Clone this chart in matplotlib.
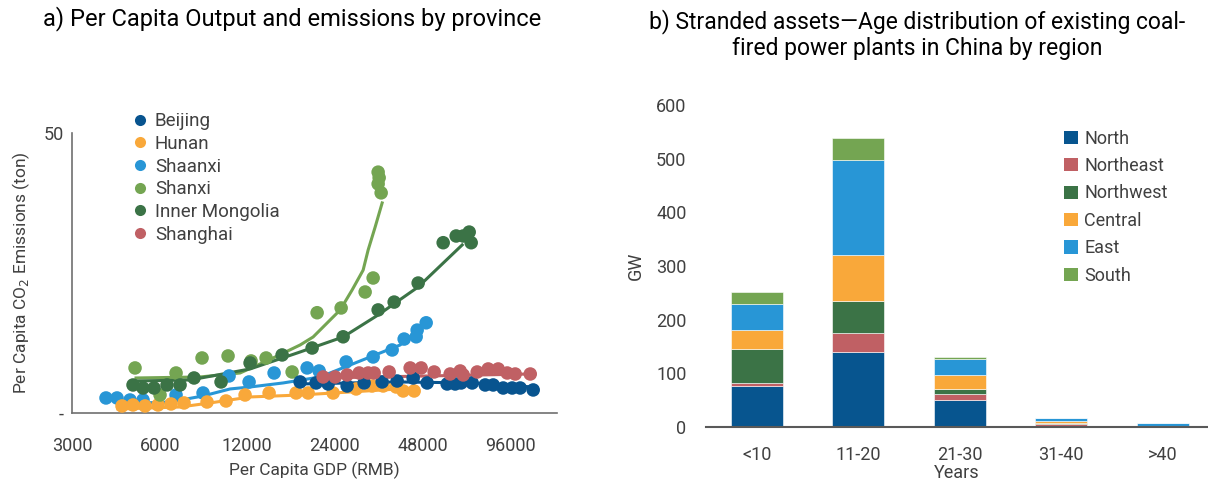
import matplotlib
matplotlib.use("Agg")
import matplotlib.pyplot as plt
from matplotlib.lines import Line2D
from matplotlib.patches import Patch
import numpy as np

plt.rcParams['font.family'] = ['Roboto', 'DejaVu Sans']

# ---- panel a: per capita GDP (RMB) vs per capita CO2 (ton) ----
provinces = ['Beijing', 'Hunan', 'Shaanxi', 'Shanxi', 'Inner Mongolia', 'Shanghai']
prov_colors = ['#08548F', '#F9A83A', '#2896D6', '#74A552', '#3B7346', '#C06064']

beijing_gdp = [18224, 20685, 22746, 26433, 30238, 34868, 39261, 44559, 49778, 58309,
               62120, 65143, 71068, 78775, 83918, 90820, 97518, 103900, 115140]
beijing_co2 = [5.54, 5.36, 5.18, 4.82, 5.36, 5.54, 5.71, 6.25, 5.36, 5.18,
               5.18, 5.36, 5.36, 5.0, 5.0, 4.46, 4.46, 4.46, 4.11]
hunan_gdp = [4456, 4861, 5345, 5924, 6567, 7279, 8730, 10147, 11792, 14260,
             17658, 19416, 23664, 28382, 32213, 35145, 38952, 41169, 44913]
hunan_co2 = [1.25, 1.43, 1.25, 1.43, 1.61, 1.79, 1.96, 2.14, 3.21, 3.57,
             3.57, 3.57, 3.57, 4.29, 4.82, 4.82, 4.64, 3.93, 3.93]
shaanxi_gdp = [3926, 4283, 4747, 5261, 6832, 8458, 10390, 12172, 14835, 19262,
               21182, 26225, 32470, 37740, 41496, 45628, 45991, 49386]
shaanxi_co2 = [2.68, 2.68, 2.32, 2.32, 3.21, 3.57, 6.61, 5.54, 7.14, 8.04,
               7.5, 9.11, 10.0, 11.25, 13.2, 13.6, 14.8, 16.1]
shanxi_gdp = [4939, 6019, 6832, 8391, 10308, 12366, 13926, 17107, 20849, 25209,
              30477, 32470, 33780, 34050, 33780, 34593]
shanxi_co2 = [8.04, 3.21, 7.14, 9.82, 10.18, 9.29, 9.82, 7.32, 17.9, 18.75,
              21.6, 24.1, 43.0, 42.0, 40.9, 39.3]
mongolia_gdp = [4861, 5261, 5740, 6362, 7052, 7876, 9752, 12268, 15805, 20040,
                25610, 33780, 38341, 46355, 56499, 62618, 66183, 69402, 70507]
mongolia_co2 = [5.0, 4.46, 4.46, 5.0, 5.0, 6.25, 5.54, 8.93, 10.36, 11.6,
                13.6, 18.4, 19.8, 23.2, 30.4, 31.6, 31.6, 32.3, 30.4]
shanghai_gdp = [21863, 24038, 26433, 29065, 31210, 32727, 36852, 43511, 47469, 52611,
                59711, 64630, 66183, 73934, 80668, 87299, 93744, 99864, 112490]
shanghai_co2 = [6.43, 6.43, 6.79, 7.14, 7.14, 7.14, 7.32, 8.04, 8.04, 7.32,
                6.96, 7.5, 6.79, 7.32, 7.86, 7.86, 7.14, 6.96, 6.96]

# trend lines
beijing_fit_gdp = [18224, 40200, 69950, 115140]
beijing_fit_co2 = [5.18, 5.54, 5.36, 4.64]
hunan_fit_gdp = [4317, 7052, 8939, 12268, 18224, 27066, 44913]
hunan_fit_co2 = [0.71, 1.07, 1.79, 2.86, 3.21, 3.75, 4.46]
shaanxi_fit_gdp = [5261, 6515, 8458, 10474, 12268, 15930, 21349, 27066, 40200, 49778]
shaanxi_fit_co2 = [1.79, 1.96, 3.04, 4.29, 4.64, 5.36, 6.43, 8.57, 12.14, 16.1]
shanxi_fit_gdp = [4978, 8259, 11335, 14718, 18224, 20199, 25012, 27495, 29995, 31210, 32988, 34868]
shanxi_fit_co2 = [6.25, 6.43, 7.14, 9.82, 12.14, 13.57, 18.39, 21.96, 25.5, 29.1, 33.2, 37.5]
mongolia_fit_gdp = [4978, 7632, 12268, 18224, 25610, 33780, 46355, 65656]
mongolia_fit_co2 = [5.71, 5.89, 7.86, 10.89, 13.57, 17.5, 22.5, 30.0]
shanghai_fit_gdp = [21863, 112490]
shanghai_fit_co2 = [6.25, 6.96]

gdp_ticks = [3000, 6000, 12000, 24000, 48000, 96000]

# ---- panel b: stranded assets ----
age_groups = ['<10', '11-20', '21-30', '31-40', '>40']
regions = ['North', 'Northeast', 'Northwest', 'Central', 'East', 'South']
region_colors = ['#07558F', '#C06064', '#3B7346', '#F9A83A', '#2896D6', '#74A552']
north = [77, 140, 51, 2, 1]
northeast = [5, 36, 11, 4, 0]
northwest = [63, 59, 9, 1, 0]
central = [36, 85, 26, 4, 0]
east = [49, 178, 29, 5, 7]
south = [21, 41, 5, 1, 0]

grey = '#404040'

fig = plt.figure(figsize=(12.08, 4.82), dpi=100)

# panel a
ax1 = fig.add_axes([0.0596, 0.1432, 0.4015, 0.581])
scatter_sets = [(beijing_gdp, beijing_co2, beijing_fit_gdp, beijing_fit_co2),
                (hunan_gdp, hunan_co2, hunan_fit_gdp, hunan_fit_co2),
                (shaanxi_gdp, shaanxi_co2, shaanxi_fit_gdp, shaanxi_fit_co2),
                (shanxi_gdp, shanxi_co2, shanxi_fit_gdp, shanxi_fit_co2),
                (mongolia_gdp, mongolia_co2, mongolia_fit_gdp, mongolia_fit_co2),
                (shanghai_gdp, shanghai_co2, shanghai_fit_gdp, shanghai_fit_co2)]
draw_order = [2, 1, 3, 4, 0, 5]
for i in draw_order:
    gx, gy, fx, fy = scatter_sets[i]
    ax1.plot(fx, fy, color=prov_colors[i], lw=2.2, zorder=2)
    ax1.scatter(gx, gy, s=95, color=prov_colors[i], edgecolors='none', zorder=3)

ax1.set_xscale('log', base=2)
ax1.set_xlim(3000, 139000)
ax1.set_ylim(0, 50)
ax1.set_xticks(gdp_ticks)
ax1.set_xticklabels([str(t) for t in gdp_ticks])
ax1.xaxis.set_minor_locator(matplotlib.ticker.NullLocator())
ax1.set_yticks([0, 50])
ax1.set_yticklabels(['-', '50'])
ax1.tick_params(axis='x', length=0, pad=17, labelsize=13, labelcolor=grey)
ax1.tick_params(axis='y', length=0, pad=6, labelsize=13, labelcolor=grey)
for s in ['top', 'right']:
    ax1.spines[s].set_visible(False)
for s in ['left', 'bottom']:
    ax1.spines[s].set_color('#707070')
    ax1.spines[s].set_linewidth(1.2)
ax1.set_xlabel('Per Capita GDP (RMB)', fontsize=12.5, color=grey, labelpad=5)
ax1.set_ylabel('Per Capita CO$_2$ Emissions (ton)', fontsize=12.5, color=grey, labelpad=8)

handles = [Line2D([], [], ls='none', marker='o', markersize=8, color=c, markeredgewidth=0)
           for c in prov_colors]
leg1 = fig.legend(handles, provinces, loc='upper left', bbox_to_anchor=(0.108, 0.767),
                  frameon=False, fontsize=13.5, handletextpad=0.3, labelspacing=0.25,
                  handlelength=1.0, borderpad=0, borderaxespad=0)
for t in leg1.get_texts():
    t.set_color(grey)

fig.text(0.242, 0.962, 'a) Per Capita Output and emissions by province', ha='center', va='center',
         fontsize=17, color='black')

# panel b
ax2 = fig.add_axes([0.5844, 0.1141, 0.4156, 0.668])
x = np.arange(len(age_groups))
layers = [north, northeast, northwest, central, east, south]
bottom = np.zeros(len(age_groups))
for vals, col, name in zip(layers, region_colors, regions):
    ax2.bar(x, vals, width=0.51, bottom=bottom, color=col, label=name,
            edgecolor='white', linewidth=0.4)
    bottom += np.array(vals)
ax2.set_xlim(-0.5, 4.446)
ax2.set_ylim(0, 600)
ax2.set_yticks(range(0, 601, 100))
ax2.set_xticks(x)
ax2.set_xticklabels(age_groups)
ax2.tick_params(axis='x', length=0, pad=14, labelsize=13, labelcolor=grey)
ax2.tick_params(axis='y', length=0, pad=14, labelsize=13, labelcolor=grey)
for s in ['top', 'right', 'left']:
    ax2.spines[s].set_visible(False)
ax2.spines['bottom'].set_color('#595959')
ax2.spines['bottom'].set_linewidth(1.5)
ax2.set_xlabel('Years', fontsize=13, color=grey, labelpad=0)
ax2.set_ylabel('GW', fontsize=13, color=grey, labelpad=8)

patches = [Patch(facecolor=c, edgecolor='none') for c in region_colors]
leg2 = fig.legend(patches, regions, loc='upper left', bbox_to_anchor=(0.881, 0.731),
                  frameon=False, fontsize=13, handletextpad=0.35, labelspacing=0.52,
                  handlelength=0.75, handleheight=0.75, borderpad=0, borderaxespad=0)
for t in leg2.get_texts():
    t.set_color(grey)

fig.text(0.759, 0.928, 'b) Stranded assets\u2014Age distribution of existing coal-\nfired power plants in China by region',
         ha='center', va='center', fontsize=16.5, color='black', linespacing=1.2)

plt.savefig('out.png', dpi=100)
